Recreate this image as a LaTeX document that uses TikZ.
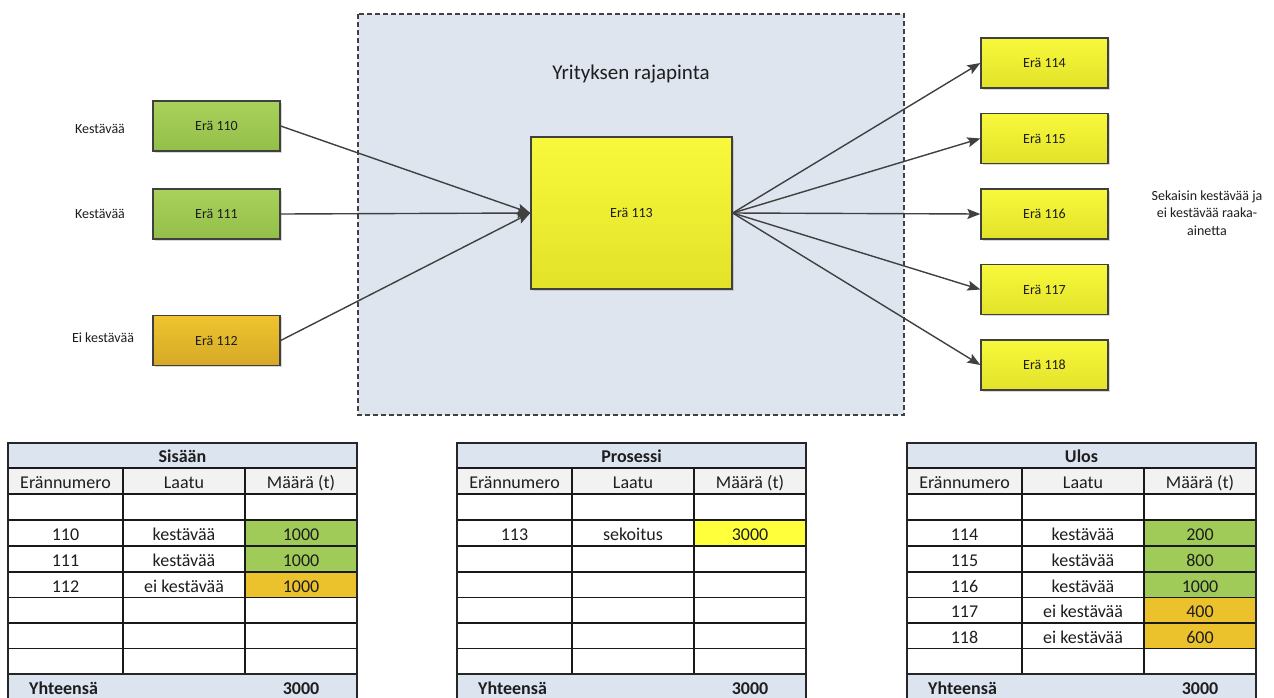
\documentclass[tikz,border=0pt]{standalone}
\usepackage{fontspec}
\setmainfont{Carlito}
\usetikzlibrary{arrows.meta,shadows}

\definecolor{edge}{HTML}{404040}
\definecolor{zonefill}{HTML}{DEE5EF}
\definecolor{greentop}{HTML}{A9D15C}
\definecolor{greenbot}{HTML}{93BF49}
\definecolor{goldtop}{HTML}{EFC42F}
\definecolor{goldbot}{HTML}{D5A926}
\definecolor{yeltop}{HTML}{F8F83C}
\definecolor{yelbot}{HTML}{E2E229}
\definecolor{cellgreen}{HTML}{A0CB58}
\definecolor{cellgold}{HTML}{EBC12C}
\definecolor{cellyellow}{HTML}{FFFF3C}
\definecolor{titlefill}{HTML}{DCE4EF}
\definecolor{headfill}{HTML}{F2F2F2}
\definecolor{ink}{HTML}{1E1E1E}

\tikzset{
  batch/.style={draw=edge, line width=1.3pt, minimum width=127pt, minimum height=50pt,
    inner sep=0pt, font=\fontsize{14}{16}\selectfont, text=ink,
    drop shadow={shadow xshift=1.5pt, shadow yshift=-1.5pt, opacity=0.3}},
  greenbatch/.style={batch, top color=greentop, bottom color=greenbot},
  goldbatch/.style={batch, top color=goldtop, bottom color=goldbot},
  yellowbatch/.style={batch, top color=yeltop, bottom color=yelbot},
  sidelabel/.style={font=\fontsize{14}{17.5}\selectfont, text=ink, inner sep=0pt},
  flow/.style={draw=edge, line width=1.4pt, -{Stealth[length=13pt,width=10pt,inset=2.5pt]}},
  gridline/.style={draw=black!90, line width=1.4pt},
  frameline/.style={draw=black!85, line width=2.2pt},
  celltext/.style={font=\fontsize{18}{20}\selectfont, text=ink, inner sep=0pt, anchor=base},
  boldtext/.style={celltext, font=\fontsize{18}{20}\selectfont\bfseries},
}

% Grid, header fills and frame of one batch table; #1 = left edge
\newcommand\mytablegrid[1]{%
  \fill[titlefill] (#1,443) rectangle (#1+349,468);
  \fill[headfill] (#1,468) rectangle (#1+349,494);
  \fill[titlefill] (#1,674) rectangle (#1+349,700);
  \foreach \yy in {468,494,520,546,572,597.5,623,648.5}
    \draw[gridline] (#1,\yy) -- (#1+349,\yy);
  \draw[gridline] (#1+115,468) -- (#1+115,674);
  \draw[gridline] (#1+237,468) -- (#1+237,674);
  \draw[frameline] (#1,674) -- (#1+349,674);
  \draw[frameline] (#1,700) -- (#1,443) -- (#1+349,443) -- (#1+349,700);
}
% Coloured quantity cell; #1 = left edge, #2 = top, #3 = bottom, #4 = colour
\newcommand\myqtycell[4]{\fill[#4] (#1+237,#2) rectangle (#1+349,#3);}

\begin{document}
\begin{tikzpicture}[x=1pt,y=-1pt]
\path[use as bounding box, clip] (0,0) rectangle (1274,697);
\fill[white] (0,0) rectangle (1274,697);

% company boundary
\draw[draw=edge, line width=1.3pt, fill=zonefill, dash pattern=on 5pt off 3pt]
  (358,14) rectangle (904,415);
\node[font=\fontsize{21}{24}\selectfont, text=ink] (zone) at (631,74) {Yrityksen rajapinta};

% incoming batches
\node[greenbatch] (b110) at (216.5,126) {Erä 110};
\node[greenbatch] (b111) at (216.5,214) {Erä 111};
\node[goldbatch]  (b112) at (216.5,340.5) {Erä 112};
\node[sidelabel] (l110) at (100,129) {Kestävää};
\node[sidelabel] (l111) at (100,214) {Kestävää};
\node[sidelabel] (l112) at (103,338) {Ei kestävää};

% process batch
\node[yellowbatch, minimum width=201pt, minimum height=152pt] (b113) at (631.5,213) {Erä 113};

% outgoing batches
\node[yellowbatch] (b114) at (1044.5,63) {Erä 114};
\node[yellowbatch] (b115) at (1044.5,138.5) {Erä 115};
\node[yellowbatch] (b116) at (1044.5,214) {Erä 116};
\node[yellowbatch] (b117) at (1044.5,289.5) {Erä 117};
\node[yellowbatch] (b118) at (1044.5,365) {Erä 118};
\node[sidelabel, align=center] (lmix) at (1207,213)
  {Sekaisin kestävää ja\\ei kestävää raaka-\\ainetta};

% flows
\draw[flow] (b110.east) -- (b113.west);
\draw[flow] (b111.east) -- (b113.west);
\draw[flow] (b112.east) -- (b113.west);
\foreach \t in {b114,b115,b116,b117,b118}
  \draw[flow] (b113.east) -- (\t.west);

% ---- table: Sisään ----
\myqtycell{8}{520}{546}{cellgreen}
\myqtycell{8}{546}{572}{cellgreen}
\myqtycell{8}{572}{597.5}{cellgold}
\mytablegrid{8}
\node[boldtext] (sT) at (182.5,462) {Sisään};
\node[celltext] (sH1) at (65.5,488) {Erännumero};
\node[celltext] (sH2) at (184,488) {Laatu};
\node[celltext] (sH3) at (301,488) {Määrä (t)};
\node[celltext] (s1a) at (65.5,540) {110};
\node[celltext] (s1b) at (184,540) {kestävää};
\node[celltext] (s1c) at (301,540) {1000};
\node[celltext] (s2a) at (65.5,566) {111};
\node[celltext] (s2b) at (184,566) {kestävää};
\node[celltext] (s2c) at (301,566) {1000};
\node[celltext] (s3a) at (65.5,592) {112};
\node[celltext] (s3b) at (184,592) {ei kestävää};
\node[celltext] (s3c) at (301,592) {1000};
\node[boldtext, anchor=base west] (sY) at (29,694) {Yhteensä};
\node[boldtext] (sYv) at (301,694) {3000};

% ---- table: Prosessi ----
\myqtycell{457}{520}{546}{cellyellow}
\mytablegrid{457}
\node[boldtext] (pT) at (631.5,462) {Prosessi};
\node[celltext] (pH1) at (514.5,488) {Erännumero};
\node[celltext] (pH2) at (633,488) {Laatu};
\node[celltext] (pH3) at (750,488) {Määrä (t)};
\node[celltext] (p1a) at (514.5,540) {113};
\node[celltext] (p1b) at (633,540) {sekoitus};
\node[celltext] (p1c) at (750,540) {3000};
\node[boldtext, anchor=base west] (pY) at (478,694) {Yhteensä};
\node[boldtext] (pYv) at (750,694) {3000};

% ---- table: Ulos ----
\myqtycell{907}{520}{546}{cellgreen}
\myqtycell{907}{546}{572}{cellgreen}
\myqtycell{907}{572}{597.5}{cellgreen}
\myqtycell{907}{597.5}{623}{cellgold}
\myqtycell{907}{623}{648.5}{cellgold}
\mytablegrid{907}
\node[boldtext] (uT) at (1081.5,462) {Ulos};
\node[celltext] (uH1) at (964.5,488) {Erännumero};
\node[celltext] (uH2) at (1083,488) {Laatu};
\node[celltext] (uH3) at (1200,488) {Määrä (t)};
\node[celltext] (u1a) at (964.5,540) {114};
\node[celltext] (u1b) at (1083,540) {kestävää};
\node[celltext] (u1c) at (1200,540) {200};
\node[celltext] (u2a) at (964.5,566) {115};
\node[celltext] (u2b) at (1083,566) {kestävää};
\node[celltext] (u2c) at (1200,566) {800};
\node[celltext] (u3a) at (964.5,592) {116};
\node[celltext] (u3b) at (1083,592) {kestävää};
\node[celltext] (u3c) at (1200,592) {1000};
\node[celltext] (u4a) at (964.5,617) {117};
\node[celltext] (u4b) at (1083,617) {ei kestävää};
\node[celltext] (u4c) at (1200,617) {400};
\node[celltext] (u5a) at (964.5,643) {118};
\node[celltext] (u5b) at (1083,643) {ei kestävää};
\node[celltext] (u5c) at (1200,643) {600};
\node[boldtext, anchor=base west] (uY) at (928,694) {Yhteensä};
\node[boldtext] (uYv) at (1200,694) {3000};
\end{tikzpicture}
\end{document}
